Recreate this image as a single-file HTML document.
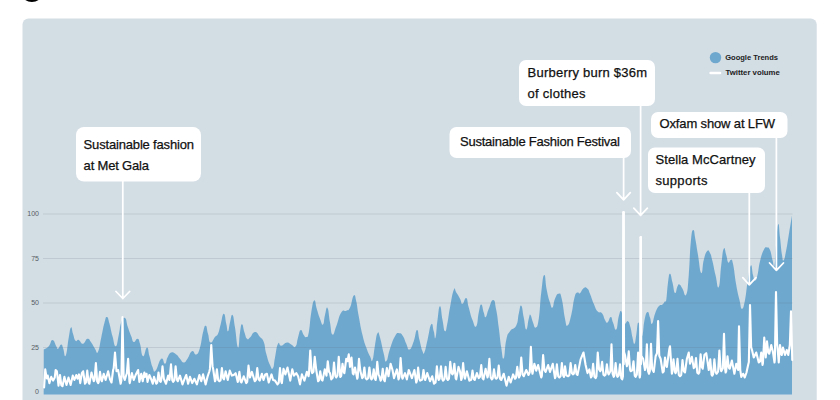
<!DOCTYPE html>
<html><head><meta charset="utf-8">
<style>
html,body{margin:0;padding:0;background:#fff;}
body{width:840px;height:400px;overflow:hidden;position:relative;font-family:"Liberation Sans",sans-serif;}
svg{position:absolute;left:0;top:0;}
.lbl{font-family:"Liberation Sans",sans-serif;font-size:13px;fill:#111;stroke:#111;stroke-width:0.25px;}
.ax{font-family:"Liberation Sans",sans-serif;font-size:7px;fill:#555d63;}
.lg{font-family:"Liberation Sans",sans-serif;font-size:8px;fill:#1c1c1c;font-weight:bold;}
</style></head>
<body>
<svg width="840" height="400" viewBox="0 0 840 400">
<rect x="0" y="0" width="840" height="400" fill="#ffffff"/>
<circle cx="31.9" cy="-10.6" r="12.5" fill="#000"/>
<path d="M22.5,400 V24.5 a6,6 0 0 1 6,-6 H810.7 a6,6 0 0 1 6,6 V400 Z" fill="#d3dde4"/>
<!-- area -->
<path d="M43.75,349.50 C45.08,348.63 46.42,348.78 48.75,346.25 C51.08,343.72 50.50,340.00 52.50,340.00 C54.50,340.00 54.78,343.92 56.25,346.25 C57.72,348.58 56.67,349.22 58.00,348.75 C59.33,348.28 59.85,344.50 61.25,344.50 C62.65,344.50 62.05,345.82 63.25,348.75 C64.45,351.68 64.28,358.50 65.75,355.50 C67.22,352.50 67.35,344.97 68.75,337.50 C70.15,330.03 69.87,328.50 71.00,327.50 C72.13,326.50 71.80,330.22 73.00,333.75 C74.20,337.28 73.97,339.08 75.50,340.75 C77.03,342.42 76.75,339.20 78.75,340.00 C80.75,340.80 80.67,344.08 83.00,343.75 C85.33,343.42 85.30,339.08 87.50,338.75 C89.70,338.42 89.25,339.83 91.25,342.50 C93.25,345.17 93.20,346.28 95.00,348.75 C96.80,351.22 96.33,354.75 98.00,351.75 C99.67,348.75 99.52,345.30 101.25,337.50 C102.98,329.70 102.97,327.97 104.50,322.50 C106.03,317.03 105.67,316.67 107.00,317.00 C108.33,317.33 108.03,318.62 109.50,323.75 C110.97,328.88 110.83,330.25 112.50,336.25 C114.17,342.25 114.08,346.58 115.75,346.25 C117.42,345.92 117.28,341.33 118.75,335.00 C120.22,328.67 119.58,327.03 121.25,322.50 C122.92,317.97 123.20,316.67 125.00,318.00 C126.80,319.33 126.33,322.63 128.00,327.50 C129.67,332.37 129.72,332.38 131.25,336.25 C132.78,340.12 132.08,341.33 133.75,342.00 C135.42,342.67 135.83,338.28 137.50,338.75 C139.17,339.22 138.53,339.08 140.00,343.75 C141.47,348.42 141.13,355.25 143.00,356.25 C144.87,357.25 145.27,347.50 147.00,347.50 C148.73,347.50 148.03,351.05 149.50,356.25 C150.97,361.45 150.90,363.13 152.50,367.00 C154.10,370.87 153.17,372.95 155.50,370.75 C157.83,368.55 158.72,360.62 161.25,358.75 C163.78,356.88 163.33,364.08 165.00,363.75 C166.67,363.42 165.83,360.50 167.50,357.50 C169.17,354.50 168.92,353.30 171.25,352.50 C173.58,351.70 173.92,352.83 176.25,354.50 C178.58,356.17 178.00,356.62 180.00,358.75 C182.00,360.88 181.75,362.50 183.75,362.50 C185.75,362.50 185.30,361.75 187.50,358.75 C189.70,355.75 189.67,352.38 192.00,351.25 C194.33,350.12 194.12,355.50 196.25,354.50 C198.38,353.50 198.20,353.37 200.00,347.50 C201.80,341.63 201.47,338.30 203.00,332.50 C204.53,326.70 204.42,325.42 205.75,325.75 C207.08,326.08 206.73,329.28 208.00,333.75 C209.27,338.22 208.63,341.63 210.50,342.50 C212.37,343.37 213.00,339.33 215.00,337.00 C217.00,334.67 216.53,336.95 218.00,333.75 C219.47,330.55 218.97,330.33 220.50,325.00 C222.03,319.67 222.22,314.08 223.75,313.75 C225.28,313.42 225.12,319.08 226.25,323.75 C227.38,328.42 227.00,331.58 228.00,331.25 C229.00,330.92 228.80,326.83 230.00,322.50 C231.20,318.17 231.17,313.67 232.50,315.00 C233.83,316.33 233.53,318.83 235.00,327.50 C236.47,336.17 236.67,346.17 238.00,347.50 C239.33,348.83 238.93,338.70 240.00,332.50 C241.07,326.30 240.80,324.25 242.00,324.25 C243.20,324.25 243.17,328.63 244.50,332.50 C245.83,336.37 245.53,337.42 247.00,338.75 C248.47,340.08 247.87,339.30 250.00,337.50 C252.13,335.70 252.33,332.13 255.00,332.00 C257.67,331.87 257.67,334.33 260.00,337.00 C262.33,339.67 262.08,337.53 263.75,342.00 C265.42,346.47 264.58,347.62 266.25,353.75 C267.92,359.88 268.20,361.20 270.00,365.00 C271.80,368.80 271.67,370.00 273.00,368.00 C274.33,366.00 273.67,363.97 275.00,357.50 C276.33,351.03 276.33,346.88 278.00,343.75 C279.67,340.62 278.85,346.08 281.25,345.75 C283.65,345.42 284.33,342.83 287.00,342.50 C289.67,342.17 288.98,343.43 291.25,344.50 C293.52,345.57 293.70,348.37 295.50,346.50 C297.30,344.63 296.60,341.90 298.00,337.50 C299.40,333.10 299.22,330.67 300.75,330.00 C302.28,329.33 302.28,333.13 303.75,335.00 C305.22,336.87 304.92,337.67 306.25,337.00 C307.58,336.33 307.42,339.03 308.75,332.50 C310.08,325.97 309.78,321.03 311.25,312.50 C312.72,303.97 312.78,301.50 314.25,300.50 C315.72,299.50 315.22,303.88 316.75,308.75 C318.28,313.62 318.33,314.55 320.00,318.75 C321.67,322.95 321.67,325.50 323.00,324.50 C324.33,323.50 323.80,319.40 325.00,315.00 C326.20,310.60 326.17,306.00 327.50,308.00 C328.83,310.00 328.67,315.43 330.00,322.50 C331.33,329.57 330.83,333.50 332.50,334.50 C334.17,335.50 333.92,332.12 336.25,326.25 C338.58,320.38 338.58,316.63 341.25,312.50 C343.92,308.37 343.92,312.08 346.25,310.75 C348.58,309.42 348.00,311.57 350.00,307.50 C352.00,303.43 352.08,297.17 353.75,295.50 C355.42,293.83 354.92,295.72 356.25,301.25 C357.58,306.78 357.08,307.25 358.75,316.25 C360.42,325.25 360.50,326.67 362.50,335.00 C364.50,343.33 364.25,341.83 366.25,347.50 C368.25,353.17 368.33,352.92 370.00,356.25 C371.67,359.58 371.17,363.00 372.50,360.00 C373.83,357.00 373.67,352.13 375.00,345.00 C376.33,337.87 376.17,335.25 377.50,333.25 C378.83,331.25 378.33,332.03 380.00,337.50 C381.67,342.97 382.08,347.42 383.75,353.75 C385.42,360.08 384.58,362.58 386.25,361.25 C387.92,359.92 387.67,355.42 390.00,348.75 C392.33,342.08 392.53,340.38 395.00,336.25 C397.47,332.12 397.12,333.25 399.25,333.25 C401.38,333.25 401.13,333.45 403.00,336.25 C404.87,339.05 404.52,340.22 406.25,343.75 C407.98,347.28 407.50,350.17 409.50,349.50 C411.50,348.83 411.75,346.45 413.75,341.25 C415.75,336.05 415.47,330.33 417.00,330.00 C418.53,329.67 418.03,334.33 419.50,340.00 C420.97,345.67 421.17,348.05 422.50,351.25 C423.83,354.45 423.17,355.00 424.50,352.00 C425.83,349.00 425.70,347.40 427.50,340.00 C429.30,332.60 429.58,326.58 431.25,324.25 C432.92,321.92 432.62,327.72 433.75,331.25 C434.88,334.78 434.50,340.50 435.50,337.50 C436.50,334.50 436.30,328.33 437.50,320.00 C438.70,311.67 438.67,306.25 440.00,306.25 C441.33,306.25 441.17,313.33 442.50,320.00 C443.83,326.67 443.67,330.58 445.00,331.25 C446.33,331.92 446.17,328.83 447.50,322.50 C448.83,316.17 448.33,316.17 450.00,307.50 C451.67,298.83 452.08,294.00 453.75,290.00 C455.42,286.00 454.58,290.17 456.25,292.50 C457.92,294.83 458.33,295.75 460.00,298.75 C461.67,301.75 460.83,303.95 462.50,303.75 C464.17,303.55 464.58,297.00 466.25,298.00 C467.92,299.00 467.08,301.63 468.75,307.50 C470.42,313.37 470.50,315.00 472.50,320.00 C474.50,325.00 474.58,328.25 476.25,326.25 C477.92,324.25 477.42,318.30 478.75,312.50 C480.08,306.70 479.92,304.50 481.25,304.50 C482.58,304.50 482.55,309.17 483.75,312.50 C484.95,315.83 484.42,318.00 485.75,317.00 C487.08,316.00 486.75,313.28 488.75,308.75 C490.75,304.22 491.25,299.67 493.25,300.00 C495.25,300.33 494.78,302.67 496.25,310.00 C497.72,317.33 497.42,317.50 498.75,327.50 C500.08,337.50 499.92,339.30 501.25,347.50 C502.58,355.70 502.42,360.25 503.75,358.25 C505.08,356.25 504.58,347.20 506.25,340.00 C507.92,332.80 507.33,335.12 510.00,331.25 C512.67,327.38 513.92,330.17 516.25,325.50 C518.58,320.83 517.42,319.02 518.75,313.75 C520.08,308.48 519.92,304.75 521.25,305.75 C522.58,306.75 522.42,311.17 523.75,317.50 C525.08,323.83 524.92,329.17 526.25,329.50 C527.58,329.83 527.62,322.62 528.75,318.75 C529.88,314.88 529.37,314.00 530.50,315.00 C531.63,316.00 531.60,319.17 533.00,322.50 C534.40,325.83 534.22,328.50 535.75,327.50 C537.28,326.50 537.28,328.08 538.75,318.75 C540.22,309.42 539.78,304.17 541.25,292.50 C542.72,280.83 542.78,275.67 544.25,275.00 C545.72,274.33 545.22,282.67 546.75,290.00 C548.28,297.33 548.47,297.83 550.00,302.50 C551.53,307.17 551.17,308.50 552.50,307.50 C553.83,306.50 553.33,302.42 555.00,298.75 C556.67,295.08 556.95,293.75 558.75,293.75 C560.55,293.75 560.08,292.08 561.75,298.75 C563.42,305.42 563.47,311.62 565.00,318.75 C566.53,325.88 565.83,326.50 567.50,325.50 C569.17,324.50 569.38,322.47 571.25,315.00 C573.12,307.53 572.83,303.50 574.50,297.50 C576.17,291.50 576.03,293.63 577.50,292.50 C578.97,291.37 578.33,294.45 580.00,293.25 C581.67,292.05 581.75,289.20 583.75,288.00 C585.75,286.80 585.83,287.22 587.50,288.75 C589.17,290.28 588.33,289.75 590.00,293.75 C591.67,297.75 591.75,299.08 593.75,303.75 C595.75,308.42 595.30,308.72 597.50,311.25 C599.70,313.78 600.00,310.92 602.00,313.25 C604.00,315.58 603.53,317.53 605.00,320.00 C606.47,322.47 605.97,323.30 607.50,322.50 C609.03,321.70 609.28,317.00 610.75,317.00 C612.22,317.00 611.53,319.17 613.00,322.50 C614.47,325.83 614.72,331.17 616.25,329.50 C617.78,327.83 617.42,321.12 618.75,316.25 C620.08,311.38 620.12,310.25 621.25,311.25 C622.38,312.25 622.00,316.67 623.00,320.00 C624.00,323.33 623.67,323.42 625.00,323.75 C626.33,324.08 626.53,320.25 628.00,321.25 C629.47,322.25 629.30,323.17 630.50,327.50 C631.70,331.83 631.43,333.17 632.50,337.50 C633.57,341.83 633.50,344.42 634.50,343.75 C635.50,343.08 635.25,340.67 636.25,335.00 C637.25,329.33 637.12,323.17 638.25,322.50 C639.38,321.83 639.37,329.17 640.50,332.50 C641.63,335.83 641.43,338.33 642.50,335.00 C643.57,331.67 643.17,326.13 644.50,320.00 C645.83,313.87 646.03,312.67 647.50,312.00 C648.97,311.33 648.80,314.37 650.00,317.50 C651.20,320.63 650.67,324.75 652.00,323.75 C653.33,322.75 653.20,318.42 655.00,313.75 C656.80,309.08 656.75,308.72 658.75,306.25 C660.75,303.78 660.83,305.83 662.50,304.50 C664.17,303.17 664.00,302.45 665.00,301.25 C666.00,300.05 665.45,305.00 666.25,300.00 C667.05,295.00 667.00,289.50 668.00,282.50 C669.00,275.50 668.80,273.75 670.00,273.75 C671.20,273.75 671.17,277.37 672.50,282.50 C673.83,287.63 673.67,292.00 675.00,293.00 C676.33,294.00 676.30,288.52 677.50,286.25 C678.70,283.98 678.17,283.83 679.50,284.50 C680.83,285.17 680.70,286.08 682.50,288.75 C684.30,291.42 684.58,298.17 686.25,294.50 C687.92,290.83 687.55,288.87 688.75,275.00 C689.95,261.13 689.55,254.50 690.75,242.50 C691.95,230.50 691.98,230.67 693.25,230.00 C694.52,229.33 694.23,233.33 695.50,240.00 C696.77,246.67 696.47,246.20 698.00,255.00 C699.53,263.80 699.72,271.67 701.25,273.00 C702.78,274.33 702.22,265.80 703.75,260.00 C705.28,254.20 705.33,253.12 707.00,251.25 C708.67,249.38 708.53,250.33 710.00,253.00 C711.47,255.67 711.03,255.38 712.50,261.25 C713.97,267.12 713.83,268.13 715.50,275.00 C717.17,281.87 717.22,289.67 718.75,287.00 C720.28,284.33 719.92,275.20 721.25,265.00 C722.58,254.80 722.42,251.42 723.75,248.75 C725.08,246.08 725.05,251.33 726.25,255.00 C727.45,258.67 727.05,261.17 728.25,262.50 C729.45,263.83 729.48,259.67 730.75,260.00 C732.02,260.33 731.53,257.08 733.00,263.75 C734.47,270.42 734.52,275.33 736.25,285.00 C737.98,294.67 737.97,293.67 739.50,300.00 C741.03,306.33 740.53,308.75 742.00,308.75 C743.47,308.75 743.53,307.00 745.00,300.00 C746.47,293.00 745.97,291.70 747.50,282.50 C749.03,273.30 749.28,267.50 750.75,265.50 C752.22,263.50 751.87,271.00 753.00,275.00 C754.13,279.00 753.80,280.50 755.00,280.50 C756.20,280.50 756.17,280.13 757.50,275.00 C758.83,269.87 758.33,267.92 760.00,261.25 C761.67,254.58 761.88,253.67 763.75,250.00 C765.62,246.33 765.33,247.50 767.00,247.50 C768.67,247.50 768.53,246.67 770.00,250.00 C771.47,253.33 771.30,255.87 772.50,260.00 C773.70,264.13 773.50,270.17 774.50,265.50 C775.50,260.83 775.25,253.50 776.25,242.50 C777.25,231.50 777.25,225.58 778.25,224.25 C779.25,222.92 779.00,229.30 780.00,237.50 C781.00,245.70 781.00,249.00 782.00,255.00 C783.00,261.00 782.62,261.33 783.75,260.00 C784.88,258.67 784.92,256.67 786.25,250.00 C787.58,243.33 787.22,244.20 788.75,235.00 C790.28,225.80 791.13,220.70 792.00,215.50 L792.00,394.50 L43.70,394.50 Z" fill="#6fa8cf"/>
<!-- gridlines -->
<g stroke="#5a6b78" stroke-width="1" opacity="0.17">
<line x1="43" x2="792.5" y1="214" y2="214"/>
<line x1="43" x2="792.5" y1="258.5" y2="258.5"/>
<line x1="43" x2="792.5" y1="303" y2="303"/>
<line x1="43" x2="792.5" y1="347.5" y2="347.5"/>
</g>
<g class="ax" text-anchor="end">
<text x="39" y="216.3">100</text>
<text x="39" y="260.8">75</text>
<text x="39" y="305.3">50</text>
<text x="39" y="349.8">25</text>
<text x="39" y="393.8">0</text>
</g>
<!-- twitter -->
<path d="M44.12,387.50 L45.25,369.38 L46.55,377.59 L46.88,378.50 L47.75,375.62 L49.38,383.12 L51.25,376.88 L53.12,380.62 L54.75,377.50 L55.62,370.00 L56.88,371.25 L58.50,385.62 L60.00,375.00 L61.30,385.19 L62.50,386.25 L64.38,376.88 L66.50,385.00 L68.50,377.50 L70.62,385.00 L72.75,375.62 L74.38,380.00 L76.25,375.00 L77.50,378.75 L79.00,374.38 L80.25,383.12 L81.88,373.12 L83.12,371.25 L85.00,383.75 L85.95,382.44 L87.25,370.62 L88.55,382.44 L89.38,383.75 L91.50,372.50 L93.75,381.25 L94.58,379.44 L95.88,363.12 L97.17,381.31 L98.12,383.12 L98.70,382.19 L100.00,371.88 L101.30,380.31 L101.88,381.25 L103.75,373.75 L105.62,380.00 L108.12,371.25 L110.00,379.38 L111.50,382.50 L113.12,370.00 L113.70,368.25 L115.00,352.50 L116.50,371.25 L118.12,370.00 L120.62,383.75 L121.35,380.75 L122.50,317.00 L123.65,377.00 L124.75,380.00 L126.25,375.00 L126.83,373.38 L128.12,358.75 L129.43,381.50 L129.75,383.12 L131.88,373.12 L133.75,380.00 L135.62,375.00 L138.12,370.00 L139.38,381.88 L141.25,373.75 L142.75,381.25 L144.38,372.50 L145.00,376.88 L146.50,373.75 L147.50,381.88 L149.38,375.00 L151.25,379.38 L152.75,383.75 L154.00,376.88 L156.25,383.75 L157.20,382.81 L158.50,372.50 L159.80,380.94 L160.62,381.88 L161.20,380.50 L162.50,366.25 L163.80,378.62 L164.38,380.00 L166.00,383.75 L168.12,375.62 L169.38,380.00 L169.70,378.44 L171.00,364.38 L172.30,380.31 L173.12,381.88 L174.32,380.38 L175.62,366.25 L176.93,379.75 L177.75,381.25 L180.00,375.62 L182.50,384.38 L184.38,379.38 L186.25,375.00 L188.12,383.75 L190.00,376.88 L192.25,383.12 L194.38,378.75 L196.88,384.38 L199.38,375.00 L201.25,381.25 L203.12,374.38 L205.62,384.38 L207.50,376.88 L209.38,371.25 L209.95,368.88 L211.25,345.00 L212.55,366.38 L213.12,368.75 L215.00,381.25 L215.57,380.06 L216.88,369.38 L218.18,380.06 L219.38,381.25 L220.57,380.12 L221.88,368.12 L223.18,378.25 L224.00,379.38 L225.62,371.25 L227.75,380.00 L229.75,370.62 L231.88,375.62 L233.75,375.00 L235.62,373.12 L237.75,381.88 L238.07,380.88 L239.38,371.88 L240.68,381.50 L241.50,382.50 L243.75,376.25 L246.25,383.12 L247.20,381.94 L248.50,365.62 L250.00,377.50 L251.88,371.88 L254.75,381.25 L255.95,380.00 L257.25,368.12 L258.55,379.38 L259.75,380.62 L261.88,373.75 L263.50,380.00 L265.25,374.38 L266.88,373.75 L268.75,382.50 L271.50,374.38 L273.12,380.00 L275.00,380.62 L277.50,384.38 L278.70,382.88 L280.00,368.12 L281.30,381.62 L281.88,383.12 L283.50,368.75 L285.38,374.38 L287.50,367.50 L290.25,380.62 L292.25,369.38 L294.00,375.62 L296.25,373.12 L298.12,376.25 L300.00,384.38 L301.88,374.38 L304.38,380.62 L306.88,371.88 L308.50,376.25 L308.95,374.00 L310.25,350.62 L311.55,370.88 L312.25,373.12 L313.45,371.81 L314.75,356.88 L316.25,370.00 L318.12,381.25 L318.95,380.31 L320.25,371.25 L321.55,379.69 L322.50,380.62 L324.75,369.38 L326.50,375.62 L327.75,361.25 L329.05,371.94 L330.00,373.12 L331.25,379.38 L332.70,377.88 L334.00,362.50 L335.30,376.00 L336.25,377.50 L337.45,375.50 L338.75,356.88 L340.25,376.88 L341.20,375.94 L342.50,363.75 L343.80,372.19 L344.38,373.12 L346.25,358.75 L347.50,361.25 L348.75,354.38 L350.00,366.88 L351.50,357.50 L352.80,373.44 L353.50,374.38 L355.00,367.50 L357.25,378.75 L357.70,377.44 L359.00,358.75 L360.30,370.56 L360.62,371.88 L362.25,378.12 L363.07,377.06 L364.38,367.50 L365.68,378.31 L366.88,379.38 L368.07,378.19 L369.38,367.50 L370.68,378.19 L371.50,379.38 L372.45,378.38 L373.75,369.38 L375.05,379.00 L375.62,380.00 L375.95,378.56 L377.25,361.88 L378.55,374.81 L379.38,376.25 L380.62,380.62 L381.45,379.44 L382.75,368.75 L384.05,380.06 L384.75,381.25 L386.88,368.12 L388.50,376.25 L390.62,363.75 L392.50,370.00 L394.00,378.12 L396.88,369.38 L398.50,379.38 L399.32,377.31 L400.62,358.12 L401.93,376.69 L402.50,378.75 L405.00,373.12 L406.88,379.38 L408.75,370.00 L411.88,378.12 L414.38,370.00 L416.25,382.50 L416.82,381.19 L418.12,367.50 L419.43,379.31 L420.25,380.62 L422.20,379.62 L423.50,370.00 L424.80,379.00 L425.25,380.00 L427.25,373.12 L430.00,381.25 L432.25,376.25 L434.00,383.75 L435.57,382.38 L436.88,366.25 L438.18,378.62 L438.75,380.00 L439.70,378.62 L441.00,366.25 L442.30,379.25 L443.12,380.62 L444.32,379.31 L445.62,366.88 L446.93,378.69 L447.75,380.00 L448.95,378.75 L450.25,361.88 L451.55,373.12 L452.50,374.38 L453.07,373.31 L454.38,363.75 L455.68,378.31 L456.25,379.38 L458.50,366.88 L460.00,371.25 L461.25,380.00 L461.82,378.44 L463.12,363.12 L464.43,377.19 L465.00,378.75 L466.88,371.25 L469.38,380.62 L471.20,379.69 L472.50,370.62 L473.80,379.06 L474.75,380.00 L476.88,373.12 L478.75,378.12 L479.95,376.81 L481.25,365.00 L482.55,378.06 L483.50,379.38 L485.62,368.75 L487.50,377.50 L488.07,375.62 L489.38,358.75 L490.68,377.50 L491.88,379.38 L492.70,378.44 L494.00,369.38 L495.30,377.81 L496.25,378.75 L497.45,377.44 L498.75,365.62 L500.05,378.69 L501.25,380.00 L503.75,373.75 L506.50,385.62 L508.75,376.88 L510.62,382.50 L513.12,374.38 L515.00,378.75 L515.95,377.69 L517.25,366.88 L518.55,376.44 L519.00,377.50 L519.95,375.62 L521.25,357.50 L522.55,374.38 L523.75,376.25 L526.25,370.00 L528.50,375.00 L529.73,372.31 L530.88,346.88 L532.02,371.06 L532.50,373.75 L534.38,363.75 L536.25,370.62 L538.12,365.00 L541.25,377.50 L541.83,375.81 L543.12,355.00 L544.42,370.19 L545.62,371.88 L548.12,365.00 L550.00,371.88 L552.75,363.75 L555.00,378.12 L555.58,376.81 L556.88,364.38 L558.17,376.19 L559.38,377.50 L560.58,376.12 L561.88,363.12 L563.17,375.50 L564.00,376.88 L565.00,366.25 L566.30,375.25 L568.12,376.25 L569.33,375.12 L570.62,363.12 L571.92,373.25 L573.12,374.38 L573.95,373.44 L575.25,365.00 L576.55,374.06 L577.50,375.00 L580.62,359.38 L583.50,352.50 L585.62,365.00 L587.50,373.12 L589.38,369.38 L591.00,377.50 L591.83,376.12 L593.12,363.75 L594.42,376.75 L595.62,378.12 L596.45,376.25 L597.75,352.50 L599.05,369.38 L600.25,371.25 L600.83,370.31 L602.12,361.88 L603.42,374.69 L604.38,375.62 L605.58,374.62 L606.88,364.38 L608.17,373.38 L608.75,374.38 L610.35,371.38 L611.50,344.38 L612.65,373.88 L613.75,376.88 L614.33,375.50 L615.62,363.12 L616.92,375.50 L617.50,376.88 L618.70,375.62 L620.00,364.38 L621.30,378.12 L622.25,379.38 L622.95,376.38 L623.50,212.00 L624.05,352.00 L625.00,355.00 L626.88,366.25 L627.45,364.75 L628.75,351.25 L630.05,369.75 L630.62,371.25 L632.20,370.25 L633.50,361.25 L634.80,375.88 L635.62,376.88 L636.83,374.44 L638.12,352.50 L639.42,375.06 L639.75,377.50 L640.20,374.50 L640.75,237.00 L641.30,355.75 L643.12,358.75 L645.00,370.00 L645.73,367.44 L646.88,344.38 L648.02,371.19 L649.00,373.75 L649.85,370.94 L651.00,343.75 L652.15,369.06 L653.75,371.88 L655.62,356.25 L656.98,353.25 L658.12,321.00 L659.27,355.75 L660.62,358.75 L662.75,372.50 L663.70,371.56 L665.00,357.50 L666.30,365.94 L666.88,366.88 L669.38,348.75 L670.00,346.25 L671.88,373.75 L672.20,372.38 L673.50,359.38 L674.80,371.75 L675.62,373.12 L676.20,371.69 L677.50,358.75 L678.80,374.81 L680.00,376.25 L681.20,375.00 L682.50,360.00 L683.80,371.25 L685.00,372.50 L686.88,358.75 L688.75,352.50 L690.00,363.75 L691.88,356.88 L693.75,368.12 L694.70,367.12 L696.00,358.12 L697.30,372.75 L698.50,373.75 L699.33,372.31 L700.62,354.38 L701.92,367.31 L702.75,368.75 L704.38,355.00 L706.25,353.12 L708.75,370.00 L710.25,359.38 L711.55,374.56 L712.25,375.62 L713.08,374.19 L714.38,359.38 L715.67,372.31 L716.50,373.75 L718.08,371.69 L719.38,350.62 L720.67,369.19 L721.25,371.25 L722.85,368.25 L724.00,333.75 L725.15,369.50 L725.62,372.50 L726.20,371.25 L727.50,356.25 L728.80,367.50 L729.75,368.75 L731.88,360.62 L734.38,373.75 L736.25,363.75 L738.12,370.00 L739.00,326.25 L740.25,370.00 L741.25,376.88 L743.12,373.75 L744.75,377.50 L746.50,372.50 L748.12,365.00 L748.85,362.00 L750.00,305.00 L751.15,347.00 L752.00,350.00 L753.75,357.50 L756.25,352.50 L758.75,362.50 L759.95,361.50 L761.25,352.50 L762.50,365.00 L762.95,363.00 L764.25,337.50 L765.75,357.50 L767.00,341.25 L768.30,352.50 L769.25,353.75 L771.25,345.00 L773.00,352.50 L774.50,362.50 L774.85,359.50 L776.00,292.00 L777.15,344.50 L777.50,347.50 L778.75,362.50 L780.00,345.00 L781.30,354.00 L781.75,355.00 L783.00,347.50 L785.00,355.00 L786.75,350.00 L788.25,355.00 L789.50,347.50 L789.85,344.50 L791.00,311.25 L792.25,360.00" fill="none" stroke="#fff" stroke-width="2.1" stroke-linejoin="round" stroke-linecap="round"/>
<g stroke="#fff" stroke-width="2.5" stroke-linecap="round"><line x1="623.55" x2="623.55" y1="212.3" y2="364"/><line x1="640.75" x2="640.75" y1="237.3" y2="364"/></g>
<!-- arrows -->
<g fill="none" stroke="#fff" stroke-width="1.75" stroke-linecap="round" stroke-linejoin="round">
<path d="M122.8,180 V298.5 M116,291.5 L122.8,298.5 L129.6,291.5"/>
<path d="M623.6,157 V199.8 M616.9,192.6 L623.6,199.8 L630.3,192.6"/>
<path d="M640.6,105 V215.4 M633.8,208.2 L640.6,215.4 L647.4,208.2"/>
<path d="M749.3,192 V284.8 M742.8,277.6 L749.3,284.8 L756,277.6"/>
<path d="M776.4,137 V270.3 M769.6,263 L776.4,270.3 L783.4,263"/>
</g>
<!-- callouts -->
<g fill="#fff">
<rect x="76" y="127" width="125" height="54.6" rx="8" ry="8"/>
<rect x="519" y="60" width="136" height="46" rx="7" ry="7"/>
<rect x="449.5" y="127" width="181.5" height="31" rx="7" ry="7"/>
<rect x="651" y="112" width="136.5" height="26" rx="7" ry="7"/>
<rect x="648" y="147.5" width="117" height="45.5" rx="7" ry="7"/>
</g>
<g class="lbl">
<text x="83.6" y="149" textLength="110.4" lengthAdjust="spacing">Sustainable fashion</text>
<text x="83.6" y="170" textLength="65.4" lengthAdjust="spacing">at Met Gala</text>
<text x="527.6" y="77" textLength="119.4" lengthAdjust="spacing">Burberry burn $36m</text>
<text x="527.6" y="98" textLength="58" lengthAdjust="spacing">of clothes</text>
<text x="460" y="146.1" textLength="160" lengthAdjust="spacing">Sustainable Fashion Festival</text>
<text x="659.5" y="128" textLength="115.5" lengthAdjust="spacing">Oxfam show at LFW</text>
<text x="655.5" y="164.1" textLength="100" lengthAdjust="spacing">Stella McCartney</text>
<text x="655.5" y="185" textLength="52" lengthAdjust="spacing">supports</text>
</g>
<!-- legend -->
<circle cx="715.5" cy="57.6" r="5.7" fill="#6fa8cf"/>
<line x1="710.6" x2="720" y1="73" y2="73" stroke="#fff" stroke-width="2.6" stroke-linecap="round"/>
<g class="lg">
<text x="725.2" y="60" textLength="52.8" lengthAdjust="spacingAndGlyphs">Google Trends</text>
<text x="725.5" y="75" textLength="54.3" lengthAdjust="spacingAndGlyphs">Twitter volume</text>
</g>
</svg>
</body></html>
